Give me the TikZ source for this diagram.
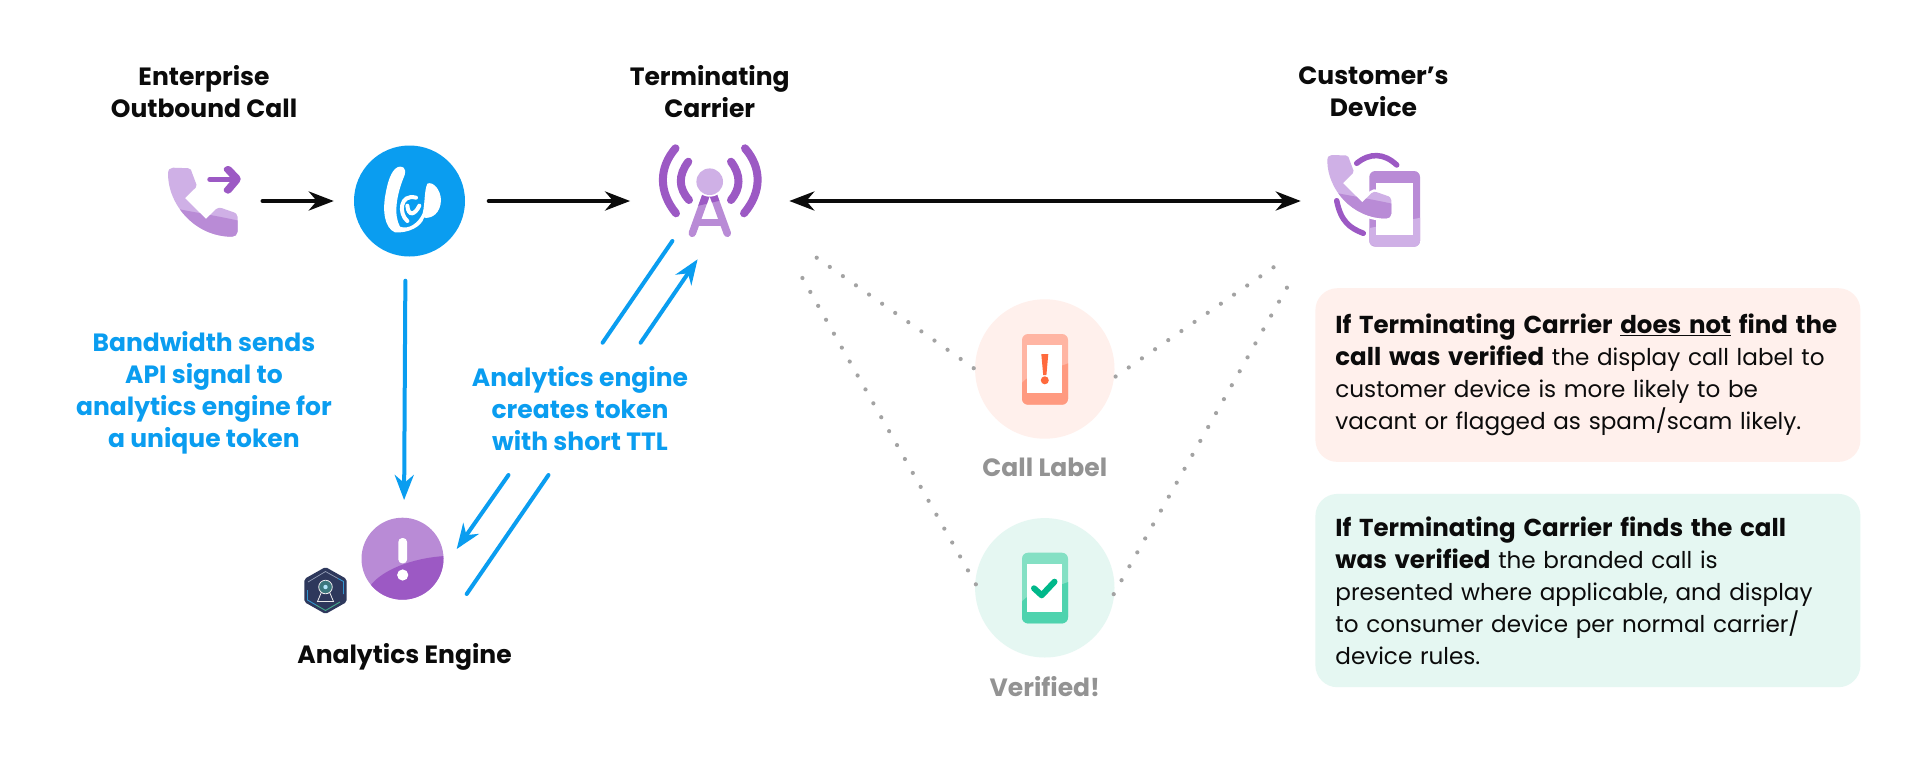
\documentclass[tikz,border=0pt]{standalone}
\usepackage{fontspec}
\setmainfont{Poppins}
\usetikzlibrary{arrows.meta,positioning,calc}
\definecolor{bwblue}{HTML}{0A9DF0}
\definecolor{inkblack}{HTML}{0B0B0B}
\definecolor{grape}{HTML}{9C59C4}
\definecolor{lilac}{HTML}{B98BD6}
\definecolor{paleLilac}{HTML}{CFB0E6}
\definecolor{mutedgrey}{HTML}{939393}
\definecolor{dotgrey}{HTML}{A3A3A3}
\definecolor{blush}{HTML}{FFF0EC}
\definecolor{mint}{HTML}{E5F7F2}
\definecolor{coralpale}{HTML}{FFB5A3}
\definecolor{coral}{HTML}{FF9A80}
\definecolor{alarm}{HTML}{FF6A3D}
\definecolor{seapale}{HTML}{84E0C4}
\definecolor{sea}{HTML}{4ED3AE}
\definecolor{tick}{HTML}{00B88A}
\definecolor{badgenavy}{HTML}{2E385C}
\newcommand{\notebold}[1]{{\fontsize{24.5}{32}\selectfont\bfseries #1}}
\tikzset{
  head/.style={font=\bfseries\fontsize{25}{32}\selectfont,text=inkblack,align=center,inner sep=0pt},
  bluetext/.style={font=\bfseries\fontsize{25}{32}\selectfont,text=bwblue,align=center,inner sep=0pt},
  greytext/.style={font=\bfseries\fontsize{25}{32}\selectfont,text=mutedgrey,inner sep=0pt},
  notebox/.style={anchor=north west,rounded corners=22pt,text width=505pt,inner xsep=20pt,inner ysep=0pt,
    minimum height=#1,align=left,text=inkblack,font=\fontsize{23.1}{32}\selectfont},
  iconbox/.style={rectangle,inner sep=0pt,minimum width=#1},
  flow/.style={draw=inkblack,line width=4pt,line cap=round,-{Stealth[length=25pt,width=19pt,inset=8pt]}},
  tokenflow/.style={draw=bwblue,line width=4pt,line cap=round,-{Stealth[length=25pt,width=19pt,inset=8pt]}},
  tokenline/.style={draw=bwblue,line width=4pt,line cap=round},
  dotline/.style={draw=dotgrey,line width=4.2pt,line cap=round,dash pattern=on 0pt off 16pt,shorten >=-3pt},
  wave/.style={draw=grape,line width=#1,line cap=round},
  handset/.pic={
    \begin{scope}
    \path[clip,preaction={draw=white,line width=5pt},preaction={fill=paleLilac}] (0,6) .. controls (0,2) and (2,0) .. (5,0) -- (20,.5) .. controls (23,.5) and (23.5,3) .. (24,5) -- (28.5,17) .. controls (29,19) and (27,21) .. (25,22.5) -- (17,30.5) -- (38,51.5) -- (48,41.5) .. controls (50,39.5) and (52,40) .. (54,40.5) -- (64,44) .. controls (68,45) and (69.5,47) .. (69.5,49) -- (69.5,64) .. controls (69.5,67) and (67,69) .. (64,69) .. controls (27,69) and (0,37) .. (0,6) -- cycle;
    \fill[lilac] (-5,38) .. controls (20,44) and (45,47) .. (75,54) -- (75,75) -- (-5,75) -- cycle;
    \end{scope}
  }
}
% drawn phone: x, y, upper colour, lower colour
\newcommand{\drawmobile}[4]{
  \begin{scope}[shift={(#1,#2)}]
  \fill[#3,rounded corners=6pt] (0,0) rectangle (46,70.7);
  \begin{scope}
  \clip[rounded corners=6pt] (0,0) rectangle (46,70.7);
  \fill[#4] (-1,50) .. controls (8,38) and (30,36) .. (47,29) -- (47,72) -- (-1,72) -- cycle;
  \end{scope}
  \fill[white] (5.2,11) rectangle (40.4,59.3);
  \end{scope}
}
\begin{document}
\begin{tikzpicture}[x=1pt,y=-1pt]
\useasboundingbox (0,0) rectangle (1920,758);
\fill[white] (0,0) rectangle (1920,758);
% column titles
\node[head] (titleenterprise) at (204,92) {Enterprise\\Outbound Call};
\node[head] (titlecarrier) at (709.7,92) {Terminating\\Carrier};
\node[head] (titledevice) at (1373.5,92) {Customer’s\\Device};
% icon places
\node[iconbox=69.6pt,minimum height=69pt] (outbound) at (203,202.2) {};
\node[circle,fill=bwblue,minimum size=111pt,inner sep=0pt] (bw) at (409.5,201) {};
\node[iconbox=103.4pt,minimum height=89pt] (tower) at (710,190.5) {};
\node[iconbox=92pt,minimum height=92pt] (device) at (1374,201) {};
\node[circle,fill=lilac,minimum size=82pt,inner sep=0pt] (engine) at (402.5,558.7) {};
\node[circle,fill=blush,minimum size=139.4pt,inner sep=0pt] (callcircle) at (1044.8,369) {};
\node[circle,fill=mint,minimum size=139.4pt,inner sep=0pt] (verifiedcircle) at (1044.8,587.8) {};
% outbound phone
\pic at (168,167.7) {handset};
\draw[wave=5.5pt] (210,179.3) -- (236,179.3);
\fill[grape,rounded corners=1.5pt] (226,166) -- (230,166) -- (240.5,177) -- (240.5,181) -- (230,193.5) -- (226,193.5) -- (223,190) -- (232,179.3) -- (223,169.5) -- cycle;
% logo
\begin{scope}[shift={(350,145)},scale=1/3]
\fill[white] (150,65) .. controls (170,65) and (168,85) .. (160,100) .. controls (140,150) and (130,210) .. (150,245) .. controls (175,255) and (205,235) .. (218,205) .. controls (226,170) and (222,140) .. (232,116) .. controls (250,108) and (272,135) .. (273,165) .. controls (272,205) and (245,222) .. (222,218) .. controls (215,245) and (175,265) .. (135,262) .. controls (105,250) and (95,200) .. (108,140) .. controls (115,100) and (130,65) .. (150,65) -- cycle;
\draw[white,line width=4pt,line cap=round] (172,228) .. controls (145,205) and (150,145) .. (198,158);
\draw[white,line width=4pt,line cap=round] (172,182) .. controls (175,215) and (195,210) .. (208,182);
\end{scope}
% carrier tower
\draw[wave=8pt] (675.5,148.3) .. controls (658.6,168) and (658.6,192) .. (676,213.3);
\draw[wave=8pt] (745,148.3) .. controls (762,168) and (762,192) .. (744,213.3);
\draw[wave=8pt] (688.3,161.7) .. controls (678.2,175) and (678.2,188) .. (689,200);
\draw[wave=8pt] (731,161.7) .. controls (741,175) and (741,188) .. (731,200);
\draw[draw=lilac,line width=7.5pt,line cap=round,line join=round] (692.3,233.3) -- (709.7,185) -- (727.3,233.3);
\draw[draw=lilac,line width=7pt] (698,222.7) -- (721,222.7);
\begin{scope}
\clip (680,180) -- (740,180) -- (740,196) -- (680,210) -- cycle;
\draw[draw=grape,line width=7.5pt] (700.3,211) -- (709.7,185) -- (719,211);
\end{scope}
\fill[white] (709.7,181.7) circle (15);
\fill[paleLilac] (709.7,181.7) circle (13.3);
% customer device
\begin{scope}
\fill[lilac,rounded corners=6pt] (1369.3,171) rectangle (1420,246.7);
\clip[rounded corners=6pt] (1369.3,171) rectangle (1420,246.7);
\fill[paleLilac] (1365,245) -- (1365,229) -- (1424,217) -- (1424,250) -- cycle;
\fill[white] (1375.7,183.3) rectangle (1412.7,235);
\end{scope}
\pic[scale=.92] at (1327.3,155) {handset};
\draw[wave=5.5pt] (1356.7,163.3) .. controls (1370,152.5) and (1384,153) .. (1396.7,165);
\draw[wave=5.5pt] (1336.7,200.7) .. controls (1341,222) and (1350,228) .. (1363.3,233.3);
% engine
\begin{scope}
\clip (402.5,558.7) circle (41);
\fill[grape] (370,586) .. controls (382,570) and (412,558) .. (445,556) -- (445,602) -- (360,602) -- cycle;
\end{scope}
\fill[white,rounded corners=4pt] (398.3,538) rectangle (407.1,563.4);
\fill[white] (402.7,575) circle (5.6);
% key badge
\fill[badgenavy,rounded corners=2pt] (325.5,567) -- (346.7,579) -- (346.7,602) -- (325.5,614) -- (304.3,602) -- (304.3,579) -- cycle;
\draw[draw={rgb,255:red,150;green,160;blue,185},line width=.7pt] (308,582) -- (325.5,571.5) -- (338,578.5);
\draw[draw={rgb,255:red,50;green,150;blue,210},line width=.9pt] (338,578.5) -- (343.5,581.5) -- (343.5,594);
\draw[draw={rgb,255:red,50;green,150;blue,210},line width=.9pt] (307.5,590) -- (307.5,600) -- (316,605);
\draw[draw={rgb,255:red,70;green,170;blue,140},line width=.9pt] (316,605) -- (325.5,610.5) -- (340,602);
\fill[fill={rgb,255:red,60;green,120;blue,125}] (325.5,587) circle (6.5);
\fill[white!70!cyan] (325.5,587) circle (2.2);
\draw[draw=white!85!gray,line width=.8pt] (321.5,592) -- (317.5,601.5) -- (333.5,601.5) -- (329.5,592);
\draw[draw=white!85!gray,line width=.8pt] (325.5,587) circle (6.8);
% engine title
\node[head] (titleengine) at (404.5,657) {Analytics Engine};
% call flow
\draw[flow,shorten <=24.5pt,shorten >=20pt] (outbound.east |- bw) -- (bw.west);
\draw[flow,shorten <=23.5pt,shorten >=28pt] (bw.east) -- (tower.west |- bw);
\draw[flow,{Stealth[length=25pt,width=19pt,inset=8pt]}-{Stealth[length=25pt,width=19pt,inset=8pt]},shorten <=27.4pt,shorten >=27pt] (tower.east |- device) -- (device.west);
% token flow
\coordinate (tokenupa) at (602.6,342.7);
\coordinate (tokenupb) at (672.4,241);
\coordinate (tokenupc) at (640.6,342.7);
\coordinate (tokenupd) at (697.6,259.3);
\coordinate (tokendowna) at (548.5,475);
\coordinate (tokendownb) at (466.7,594);
\coordinate (tokendownc) at (508.5,475);
\coordinate (tokendownd) at (456.7,549);
\draw[tokenflow,shorten <=24pt,shorten >=17.5pt] ([xshift=-4pt]bw.south) -- ([xshift=1.5pt]engine.north);
\draw[tokenline] (tokenupa) -- (tokenupb);
\draw[tokenflow] (tokenupc) -- (tokenupd);
\draw[tokenline] (tokendowna) -- (tokendownb);
\draw[tokenflow] (tokendownc) -- (tokendownd);
% dotted ties
\coordinate (tiecarriera) at (816.7,257.7);
\coordinate (tiecarrierb) at (802.4,278);
\coordinate (tiedevicea) at (1273.5,267.3);
\coordinate (tiedeviceb) at (1286.9,287.7);
\draw[dotline] (tiecarriera) -- (callcircle.180);
\draw[dotline] (tiecarrierb) -- (verifiedcircle.176.5);
\draw[dotline] (tiedevicea) -- (callcircle.-7);
\draw[dotline] (tiedeviceb) -- (verifiedcircle.-4);
% result phones
\drawmobile{1022}{334}{coralpale}{coral}
\fill[alarm] (1041.3,354) -- (1048.3,354) -- (1046.4,375) -- (1043.2,375) -- cycle;
\fill[alarm] (1044.8,380.3) circle (4);
\drawmobile{1022}{552.7}{seapale}{sea}
\draw[draw=tick,line width=6pt,line cap=round,line join=round] (1034,588.3) -- (1041.7,595.3) -- (1054.5,581.7);
\node[greytext] (labelcall) at (1044.8,467) {Call Label};
\node[greytext] (labelverified) at (1044.8,686.7) {Verified!};
% notes
\node[notebox=173.7pt,fill=blush] (noteflagged) at (1315.2,288) {\notebold{If Terminating Carrier \underline{does not} find the\\call was verified} the display call label to\\customer device is more likely to be\\vacant or flagged as spam/scam likely.};
\node[notebox=193.3pt,fill=mint] (noteverified) at (1315.2,493.7) {\notebold{If Terminating Carrier finds the call\\was verified} the branded call is\\presented where applicable, and display\\to consumer device per normal carrier/\\device rules.};
% blue captions
\node[bluetext] (captionsignal) at (203.9,392.5) {Bandwidth sends\\API signal to\\analytics engine for\\a unique token};
\node[bluetext] (captiontoken) at (580,408.8) {Analytics engine\\creates token\\with short TTL};
\end{tikzpicture}
\end{document}
